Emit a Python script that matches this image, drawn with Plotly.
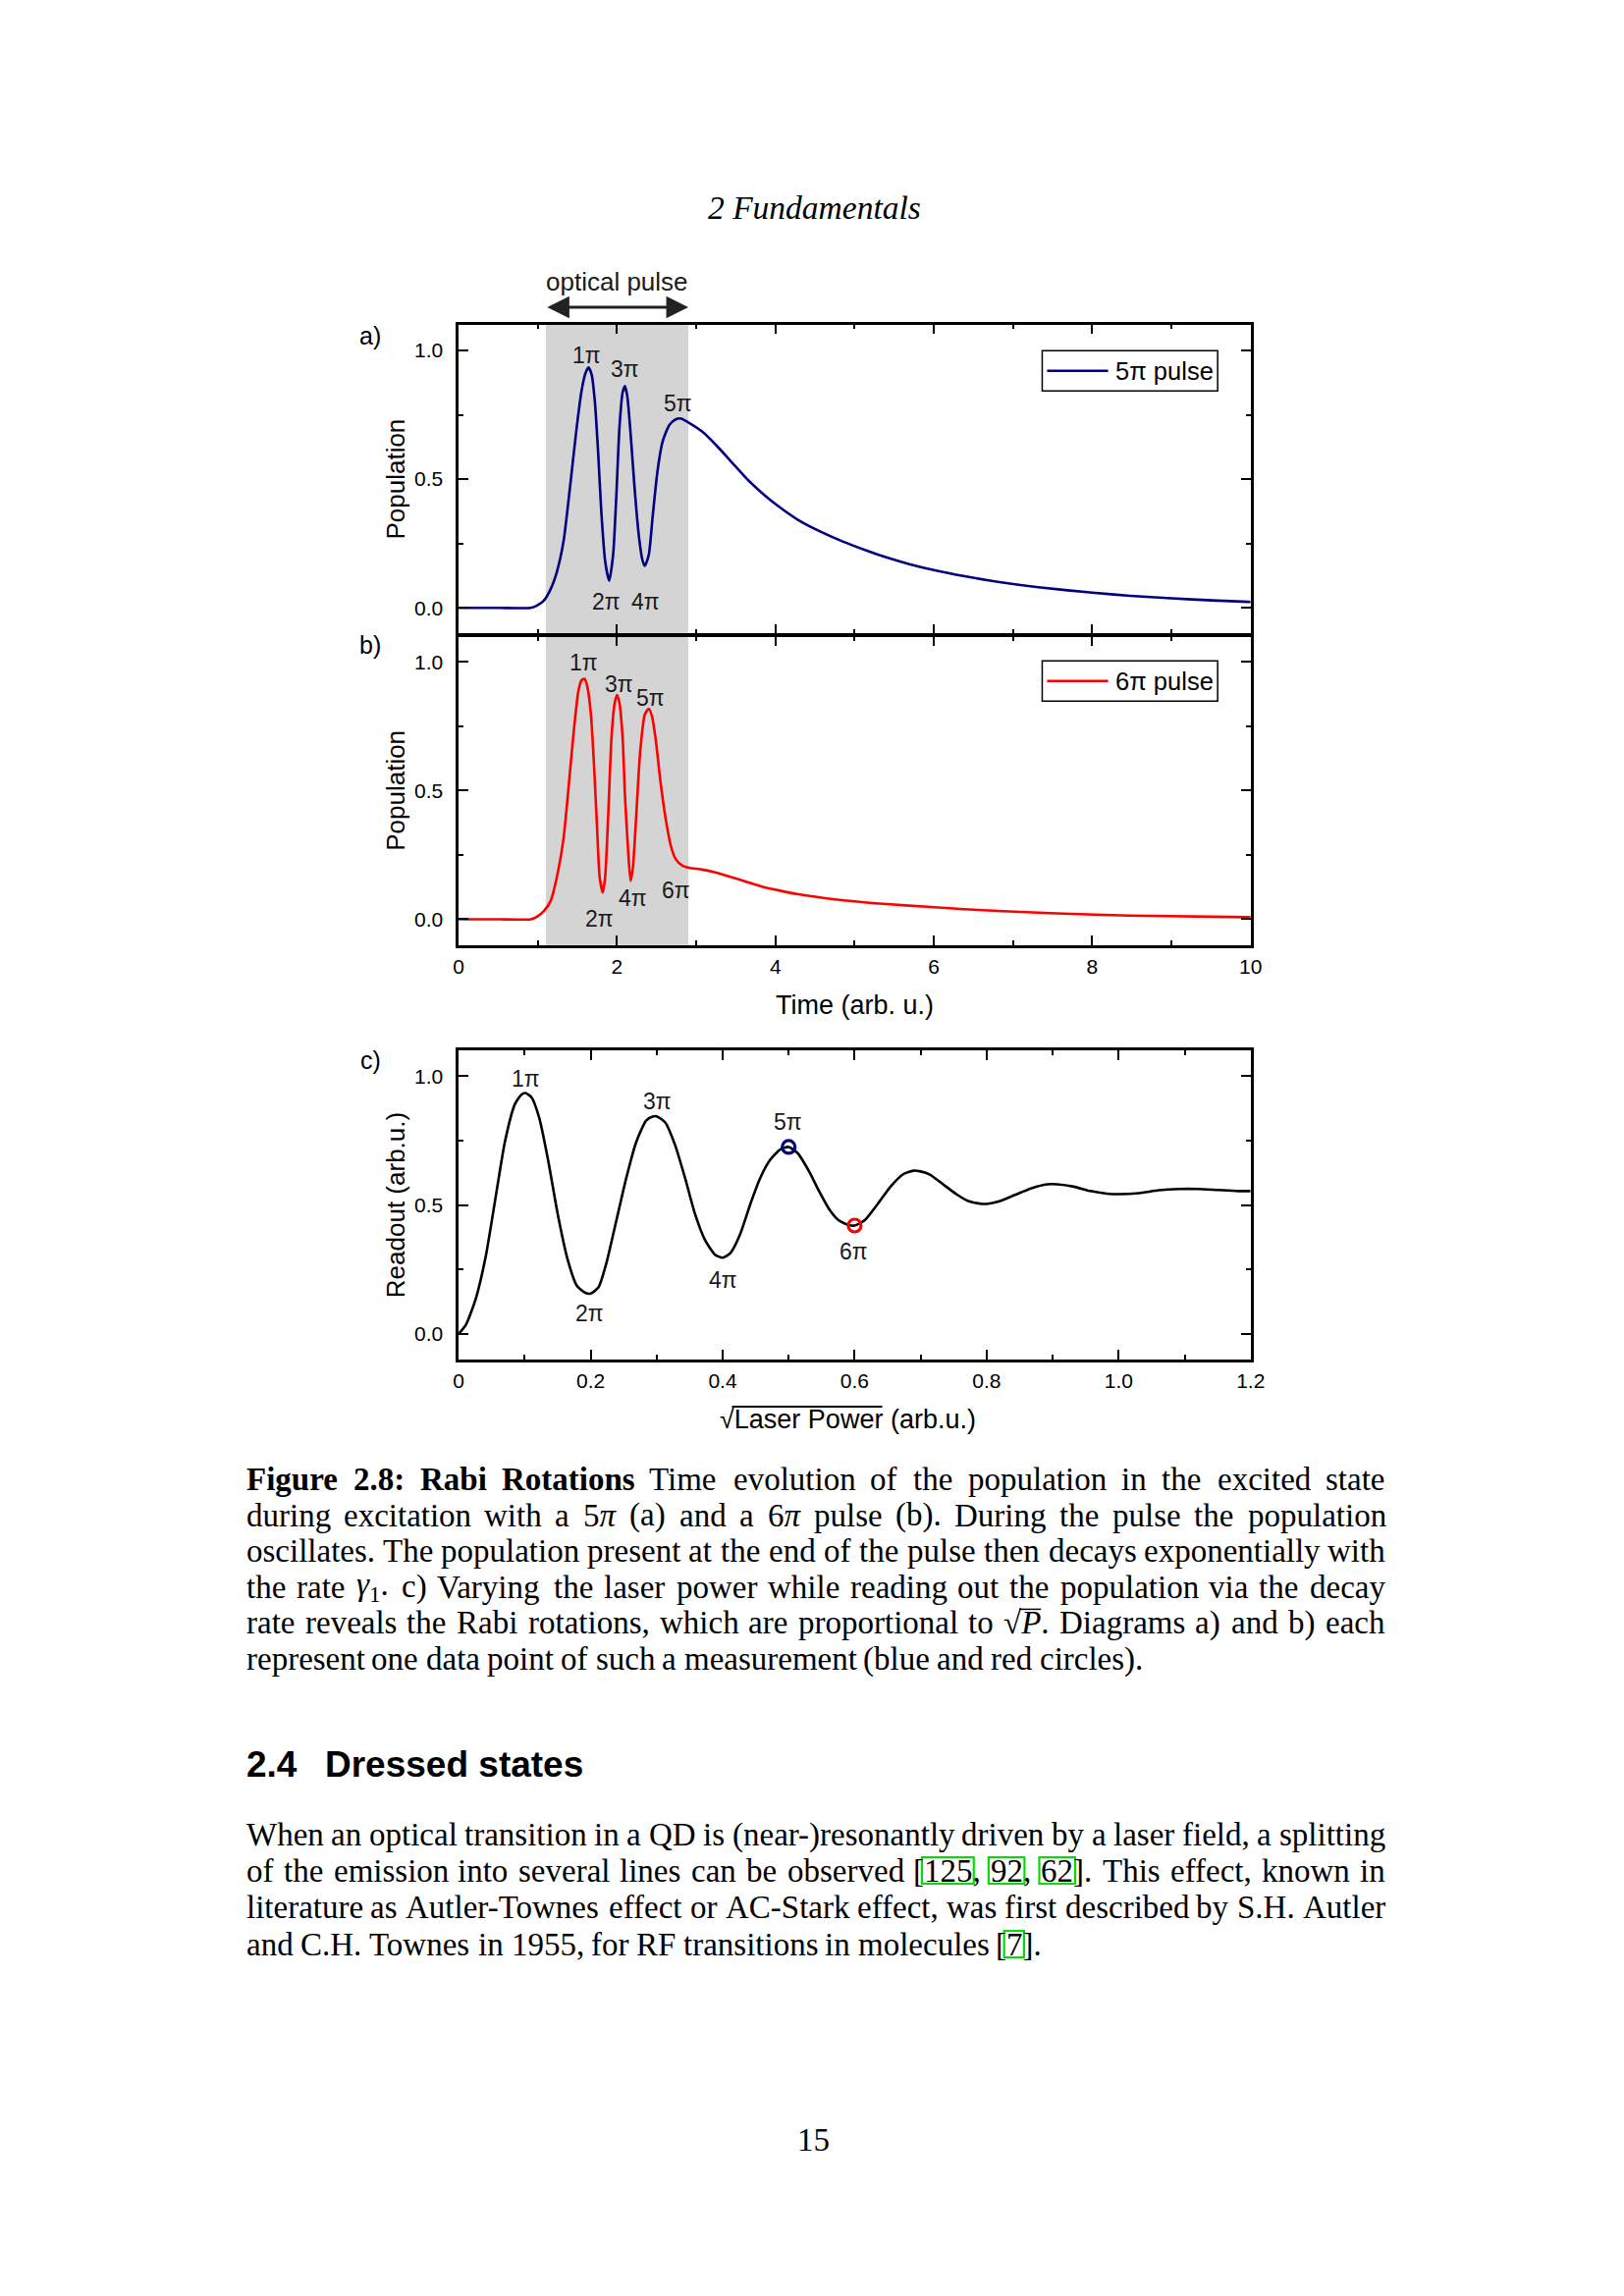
import re
import plotly.graph_objects as go

W, H = 1654, 2339
OFF = 8                      # default page margin of the html body
FW, FH = W - OFF, H - OFF
def X(px): return (px - OFF) / FW
def Y(py): return 1 - (py - OFF) / FH

SANS = "Liberation Sans"
SERIF = "Liberation Serif"
NAVY = "#000080"
RED = "#ff0000"

# ---------------- data ----------------
t_5pi = [0, 0.5, 0.91, 0.99, 1.075, 1.16, 1.24, 1.325, 1.41, 1.49, 1.55, 1.60, 1.64, 1.68, 1.72,
         1.76, 1.80, 1.85, 1.90, 1.95, 1.99, 2.03, 2.07, 2.10, 2.13, 2.17, 2.22, 2.275, 2.32, 2.35,
         2.40, 2.45, 2.51, 2.575, 2.66, 2.74, 2.81, 2.89, 3.077, 3.263, 3.45, 3.636, 3.823, 4.009, 4.289,
         4.57, 4.85, 5.13, 5.41, 5.69, 6.0, 6.39, 6.85, 7.32, 8.0, 8.48, 9.0, 9.51, 10.0]
pop_5pi = [0, 0, 0.0, 0.009, 0.028, 0.072, 0.14, 0.26, 0.48, 0.70, 0.84, 0.91, 0.934, 0.905, 0.80,
           0.61, 0.38, 0.18, 0.106, 0.205, 0.43, 0.70, 0.836, 0.861, 0.82, 0.68, 0.47, 0.28, 0.186, 0.163,
           0.205, 0.356, 0.53, 0.646, 0.71, 0.732, 0.735, 0.722, 0.684, 0.628, 0.565, 0.502, 0.448, 0.401, 0.341,
           0.296, 0.258, 0.225, 0.195, 0.170, 0.147, 0.123, 0.099, 0.080, 0.059, 0.047, 0.037, 0.029, 0.023]

t_6pi = [0, 0.5, 0.91, 0.99, 1.075, 1.16, 1.24, 1.325, 1.39, 1.45, 1.51, 1.55, 1.59, 1.625, 1.67,
         1.71, 1.75, 1.78, 1.82, 1.85, 1.89, 1.93, 1.97, 2.0, 2.03, 2.07, 2.10, 2.14, 2.17, 2.20,
         2.24, 2.29, 2.35, 2.40, 2.44, 2.49, 2.55, 2.62, 2.68, 2.74, 2.825, 2.91, 3.075, 3.24, 3.45,
         3.66, 3.82, 4.06, 4.29, 4.76, 5.22, 5.69, 6.15, 6.62, 7.55, 8.48, 10.0]
pop_6pi = [0, 0, 0, 0.01, 0.032, 0.07, 0.164, 0.316, 0.52, 0.72, 0.884, 0.928, 0.934, 0.903, 0.795,
           0.593, 0.34, 0.164, 0.104, 0.164, 0.417, 0.707, 0.84, 0.871, 0.84, 0.707, 0.48, 0.265, 0.149, 0.20,
           0.39, 0.644, 0.795, 0.818, 0.79, 0.694, 0.53, 0.379, 0.284, 0.234, 0.208, 0.200, 0.193, 0.182, 0.163,
           0.143, 0.128, 0.111, 0.097, 0.077, 0.063, 0.053, 0.044, 0.035, 0.023, 0.014, 0.008]

sqrt_power = [0, 0.011, 0.026, 0.041, 0.056, 0.070, 0.085, 0.095, 0.101, 0.110, 0.122, 0.135, 0.150,
              0.165, 0.179, 0.192, 0.200, 0.212, 0.224, 0.239, 0.254, 0.269, 0.284, 0.294, 0.300,
              0.313, 0.328, 0.343, 0.358, 0.373, 0.388, 0.400, 0.412, 0.427, 0.442, 0.457, 0.472,
              0.487, 0.500, 0.514, 0.531, 0.546, 0.561, 0.576, 0.591, 0.600, 0.615, 0.635, 0.655,
              0.674, 0.689, 0.700, 0.714, 0.734, 0.754, 0.773, 0.793, 0.800, 0.818, 0.843, 0.868,
              0.892, 0.907, 0.932, 0.957, 0.982, 1.0, 1.031, 1.061, 1.091, 1.12, 1.15, 1.18, 1.20]
readout = [0.0, 0.035, 0.137, 0.30, 0.53, 0.744, 0.89, 0.928, 0.934, 0.919, 0.839, 0.681, 0.466,
           0.289, 0.187, 0.159, 0.156, 0.181, 0.276, 0.44, 0.605, 0.744, 0.827, 0.843, 0.844,
           0.82, 0.732, 0.605, 0.466, 0.365, 0.308, 0.295, 0.314, 0.39, 0.504, 0.605, 0.675,
           0.715, 0.725, 0.70, 0.63, 0.554, 0.485, 0.44, 0.422, 0.42, 0.44, 0.504, 0.573,
           0.62, 0.633, 0.63, 0.618, 0.58, 0.542, 0.514, 0.504, 0.504, 0.513, 0.539, 0.565,
           0.58, 0.58, 0.571, 0.554, 0.544, 0.542, 0.546, 0.557, 0.562, 0.562, 0.558, 0.554, 0.554]

marker_x = [0.5, 0.6]
marker_y = [0.725, 0.42]
marker_colors = [NAVY, RED]

pulse_window = [1.1, 2.9]

time_ticks = [0, 2, 4, 6, 8, 10]
time_ticktext = ["0", "2", "4", "6", "8", "10"]
time_minor = [1, 3, 5, 7, 9]
pop_ticks = [0, 0.5, 1.0]
pop_ticktext = ["0.0", "0.5", "1.0"]
pop_minor = [0.25, 0.75]
power_ticks = [0, 0.2, 0.4, 0.6, 0.8, 1.0, 1.2]
power_ticktext = ["0", "0.2", "0.4", "0.6", "0.8", "1.0", "1.2"]
power_minor = [0.1, 0.3, 0.5, 0.7, 0.9, 1.1]

labels_a = [("1π", 1.617, 0.981), ("3π", 2.104, 0.927), ("5π", 2.775, 0.795),
            ("2π", 1.867, 0.025), ("4π", 2.358, 0.025)]
labels_b = [("1π", 1.583, 0.997), ("3π", 2.025, 0.913), ("5π", 2.417, 0.859),
            ("2π", 1.775, 0.0), ("4π", 2.2, 0.082), ("6π", 2.742, 0.114)]
labels_c = [("1π", 0.101, 0.991), ("2π", 0.198, 0.08), ("3π", 0.301, 0.902),
            ("4π", 0.40, 0.209), ("5π", 0.499, 0.823), ("6π", 0.598, 0.32)]

# ---------------- figure ----------------
fig = go.Figure()
fig.add_trace(go.Scatter(x=t_5pi, y=pop_5pi, mode="lines", name="5π pulse", showlegend=False,
                         line=dict(color=NAVY, width=2.6, shape="spline", smoothing=0.6),
                         xaxis="x", yaxis="y"))
fig.add_trace(go.Scatter(x=t_6pi, y=pop_6pi, mode="lines", name="6π pulse", showlegend=False,
                         line=dict(color=RED, width=2.6, shape="spline", smoothing=0.6),
                         xaxis="x2", yaxis="y2"))
fig.add_trace(go.Scatter(x=sqrt_power, y=readout, mode="lines", showlegend=False,
                         line=dict(color="black", width=2.6, shape="spline", smoothing=0.6),
                         xaxis="x3", yaxis="y3"))
fig.add_trace(go.Scatter(x=marker_x, y=marker_y, mode="markers", showlegend=False,
                         marker=dict(symbol="circle-open", size=13, color=marker_colors,
                                     line=dict(width=3.2, color=marker_colors)),
                         xaxis="x3", yaxis="y3"))

XDOM = [X(467), X(1284)]
DOM_A = [Y(645.5), Y(330.7)]
DOM_B = [Y(962.7), Y(648)]
DOM_C = [Y(1385), Y(1070)]

def axis(**kw):
    d = dict(showline=True, linecolor="black", linewidth=2.5, mirror="ticks",
             ticks="inside", ticklen=10, tickwidth=2, tickcolor="black",
             showgrid=False, zeroline=False,
             tickfont=dict(family=SANS, size=21, color="black"))
    d.update(kw)
    return d

minor_kw = dict(ticks="inside", ticklen=5, tickwidth=2, tickcolor="black", showgrid=False)
title_font = dict(family=SANS, size=26, color="black")

fig.update_layout(
    width=FW, height=FH, autosize=False,
    margin=dict(l=0, r=0, t=0, b=0),
    paper_bgcolor="white", plot_bgcolor="rgba(0,0,0,0)",
    showlegend=False,
    xaxis=axis(domain=XDOM, range=[0, 10], tickmode="array", tickvals=time_ticks,
               showticklabels=False, minor=dict(tickmode="array", tickvals=time_minor, **minor_kw),
               anchor="y"),
    yaxis=axis(domain=DOM_A, range=[-0.1, 1.1], tickmode="array", tickvals=pop_ticks,
               ticktext=pop_ticktext, ticklabelstandoff=9,
               minor=dict(tickmode="array", tickvals=pop_minor, **minor_kw),
               title=dict(text="Population", font=title_font, standoff=2), anchor="x"),
    xaxis2=axis(domain=XDOM, range=[0, 10], tickmode="array", tickvals=time_ticks,
                ticktext=time_ticktext, ticklabelstandoff=1,
                minor=dict(tickmode="array", tickvals=time_minor, **minor_kw),
                title=dict(text="Time (arb. u.)", font=dict(family=SANS, size=27, color="black"), standoff=20),
                anchor="y2"),
    yaxis2=axis(domain=DOM_B, range=[-0.1, 1.1], tickmode="array", tickvals=pop_ticks,
                ticktext=pop_ticktext, ticklabelstandoff=9,
                minor=dict(tickmode="array", tickvals=pop_minor, **minor_kw),
                title=dict(text="Population", font=title_font, standoff=2), anchor="x2"),
    xaxis3=axis(domain=XDOM, range=[0, 1.2], tickmode="array", tickvals=power_ticks,
                ticktext=power_ticktext, ticklabelstandoff=1,
                minor=dict(tickmode="array", tickvals=power_minor, **minor_kw), anchor="y3"),
    yaxis3=axis(domain=DOM_C, range=[-0.1, 1.1], tickmode="array", tickvals=pop_ticks,
                ticktext=pop_ticktext, ticklabelstandoff=9,
                minor=dict(tickmode="array", tickvals=pop_minor, **minor_kw),
                title=dict(text="Readout (arb.u.)", font=title_font, standoff=2), anchor="x3"),
)

shapes = []
for xr, yr in (("x", "y domain"), ("x2", "y2 domain")):
    shapes.append(dict(type="rect", xref=xr, yref=yr, x0=pulse_window[0], x1=pulse_window[1],
                       y0=0, y1=1, fillcolor="#d4d4d4", line=dict(width=0), layer="below"))

ann = []

# legend boxes (line sample + text)
for name, color, top in (("5π pulse", NAVY, 357.3), ("6π pulse", RED, 673.3)):
    bot = top + 41
    mid = (top + bot) / 2
    shapes.append(dict(type="rect", xref="paper", yref="paper", x0=X(1069), x1=X(1250),
                       y0=Y(bot), y1=Y(top), line=dict(color="black", width=1.5),
                       fillcolor="white"))
    shapes.append(dict(type="line", xref="paper", yref="paper", x0=X(1074), x1=X(1137),
                       y0=Y(mid), y1=Y(mid), line=dict(color=color, width=2.6)))
    ann.append(dict(text=name, x=X(1145), y=Y(mid), xref="paper", yref="paper", showarrow=False,
                    xanchor="left", yanchor="middle", borderpad=0, borderwidth=0,
                    font=dict(family=SANS, size=25.5, color="black")))

lab_font = dict(family=SANS, size=23, color="#1a1a1a")
for lst, xr, yr in ((labels_a, "x", "y"), (labels_b, "x2", "y2"), (labels_c, "x3", "y3")):
    for txt, lx, ly in lst:
        ann.append(dict(text=txt, x=lx, y=ly, xref=xr, yref=yr, showarrow=False,
                        xanchor="center", yanchor="middle", font=lab_font))

for txt, py in (("a)", 342), ("b)", 657), ("c)", 1080)):
    ann.append(dict(text=txt, x=X(376), y=Y(py), xref="paper", yref="paper", showarrow=False,
                    xanchor="center", yanchor="middle", font=dict(family=SANS, size=25, color="black")))

# optical pulse arrow and text
ann.append(dict(text="optical pulse", x=sum(pulse_window) / 2, y=Y(287), xref="x", yref="paper",
                showarrow=False, xanchor="center", yanchor="middle",
                font=dict(family=SANS, size=26, color="#1a1a1a")))
ann.append(dict(text="", x=pulse_window[1], y=Y(313), xref="x", yref="paper",
                ax=pulse_window[0], ay=0, axref="x", ayref="pixel",
                showarrow=True, arrowhead=2, startarrowhead=2, arrowside="end+start",
                arrowwidth=3, arrowsize=1.5, startarrowsize=1.5, arrowcolor="#222222",
                standoff=0, startstandoff=0))

# x title of panel c with square root overline
ann.append(dict(text="√Laser Power (arb.u.)", x=X(868), y=Y(1446), xref="paper", yref="paper",
                showarrow=False, xanchor="center", yanchor="middle",
                font=dict(family=SANS, size=27, color="black")))
shapes.append(dict(type="line", xref="paper", yref="paper", x0=X(749), x1=X(904),
                   y0=Y(1433), y1=Y(1433), line=dict(color="black", width=2)))

# ---------------- page text ----------------
FS = 33
LEFT, RIGHT = 248, 1422
LINE_W = RIGHT - LEFT

REG = dict(zip("abcdefghijklmnopqrstuvwxyz",
               [444, 500, 444, 500, 444, 333, 500, 500, 278, 278, 500, 278, 778, 500, 500, 500, 500,
                333, 389, 278, 500, 500, 722, 500, 500, 444]))
REG.update(dict(zip("ABCDEFGHIJKLMNOPQRSTUVWXYZ",
                    [722, 667, 667, 722, 611, 556, 722, 722, 333, 389, 722, 611, 889, 722, 722, 556,
                     722, 667, 556, 611, 722, 722, 944, 722, 722, 611])))
REG.update({c: 500 for c in "0123456789"})
REG.update({" ": 250, ".": 250, ",": 250, ":": 278, ";": 278, "(": 333, ")": 333,
            "[": 333, "]": 333, "-": 333, "√": 549})
BOLD = dict(zip("abcdefghijklmnopqrstuvwxyz",
                [500, 556, 444, 556, 444, 333, 500, 556, 278, 333, 556, 278, 833, 556, 500, 556, 556,
                 444, 389, 333, 556, 500, 722, 500, 500, 444]))
BOLD.update({"F": 611, "R": 722, ":": 333, ".": 250})
BOLD.update({c: 500 for c in "0123456789"})
ITAL = {"π": 500, "γ": 440, "P": 611}

def parse_word(w):
    segs = []
    for m in re.finditer(r"\*\*(.+?)\*\*|_(.+?)_|~(.+?)~|\{(.+?)\}|([^*_~{}]+)", w):
        b, i, s, c, r = m.groups()
        if b: segs.append((b, "b"))
        elif i: segs.append((i, "i"))
        elif s: segs.append((s, "s"))
        elif c: segs.append((c, "c"))
        else: segs.append((r, "r"))
    return segs

def seg_w(t, st):
    tab = BOLD if st == "b" else ITAL if st == "i" else REG
    w = sum(tab.get(ch, REG.get(ch, 500)) for ch in t) / 1000 * FS
    return w * 0.7 if st == "s" else w

def seg_html(t, st):
    if st == "b": return "<b>%s</b>" % t
    if st == "i": return "<i>%s</i>" % t
    if st == "s": return "<sub>%s</sub>" % t
    return t

def place_line(line, yc, justify=True):
    words = [parse_word(w) for w in line.split(" ")]
    widths = [sum(seg_w(t, s) for t, s in segs) for segs in words]
    gap = (LINE_W - sum(widths)) / (len(words) - 1) if justify else REG[" "] / 1000 * FS
    x = LEFT
    for segs, wd in zip(words, widths):
        ann.append(dict(text="".join(seg_html(t, s) for t, s in segs), x=X(x), y=Y(yc),
                        xref="paper", yref="paper", showarrow=False, xanchor="left",
                        yanchor="middle", borderpad=0, borderwidth=0,
                        font=dict(family=SERIF, size=FS, color="black")))
        off = 0
        for t, s in segs:
            sw = seg_w(t, s)
            if s == "c":
                shapes.append(dict(type="rect", xref="paper", yref="paper",
                                   x0=X(x + off - 2), x1=X(x + off + sw + 2),
                                   y0=Y(yc + 13), y1=Y(yc - 14),
                                   line=dict(color="#00e000", width=2.2), fillcolor="rgba(0,0,0,0)"))
            if t.startswith("√"):
                shapes.append(dict(type="line", xref="paper", yref="paper",
                                   x0=X(x + off + 0.50 * FS), x1=X(x + off + 0.549 * FS + 0.62 * FS),
                                   y0=Y(yc - 14), y1=Y(yc - 14), line=dict(color="black", width=1.5)))
            off += sw
        x += wd + gap

caption_lines = [
    "**Figure** **2.8:** **Rabi** **Rotations** Time evolution of the population in the excited state",
    "during excitation with a 5_π_ (a) and a 6_π_ pulse (b). During the pulse the population",
    "oscillates. The population present at the end of the pulse then decays exponentially with",
    "the rate _γ_~1~. c) Varying the laser power while reading out the population via the decay",
    "rate reveals the Rabi rotations, which are proportional to √_P_. Diagrams a) and b) each",
    "represent one data point of such a measurement (blue and red circles).",
]
caption_y = [1507, 1543.6, 1580.2, 1616.8, 1653.4, 1690]
body_lines = [
    "When an optical transition in a QD is (near-)resonantly driven by a laser field, a splitting",
    "of the emission into several lines can be observed [{125}, {92}, {62}]. This effect, known in",
    "literature as Autler-Townes effect or AC-Stark effect, was first described by S.H. Autler",
    "and C.H. Townes in 1955, for RF transitions in molecules [{7}].",
]
body_y = [1869, 1906, 1943, 1981]

for i, (ln, yc) in enumerate(zip(caption_lines, caption_y)):
    place_line(ln, yc, justify=(i < len(caption_lines) - 1))
for i, (ln, yc) in enumerate(zip(body_lines, body_y)):
    place_line(ln, yc, justify=(i < len(body_lines) - 1))

# header, section heading, page number
ann.append(dict(text="<i>2 Fundamentals</i>", x=X(834), y=Y(211), xref="paper", yref="paper",
                showarrow=False, xanchor="center", yanchor="middle",
                font=dict(family=SERIF, size=33.5, color="black")))
ann.append(dict(text="<b>2.4</b>", x=X(248), y=Y(1797), xref="paper", yref="paper",
                showarrow=False, xanchor="left", yanchor="middle", borderpad=0, borderwidth=0,
                font=dict(family=SANS, size=37, color="black")))
ann.append(dict(text="<b>Dressed states</b>", x=X(329), y=Y(1797), xref="paper", yref="paper",
                showarrow=False, xanchor="left", yanchor="middle", borderpad=0, borderwidth=0,
                font=dict(family=SANS, size=37, color="black")))
ann.append(dict(text="15", x=X(833), y=Y(2180), xref="paper", yref="paper",
                showarrow=False, xanchor="center", yanchor="middle",
                font=dict(family=SERIF, size=FS, color="black")))

fig.update_layout(annotations=ann, shapes=shapes)
fig.write_html("out.html")
